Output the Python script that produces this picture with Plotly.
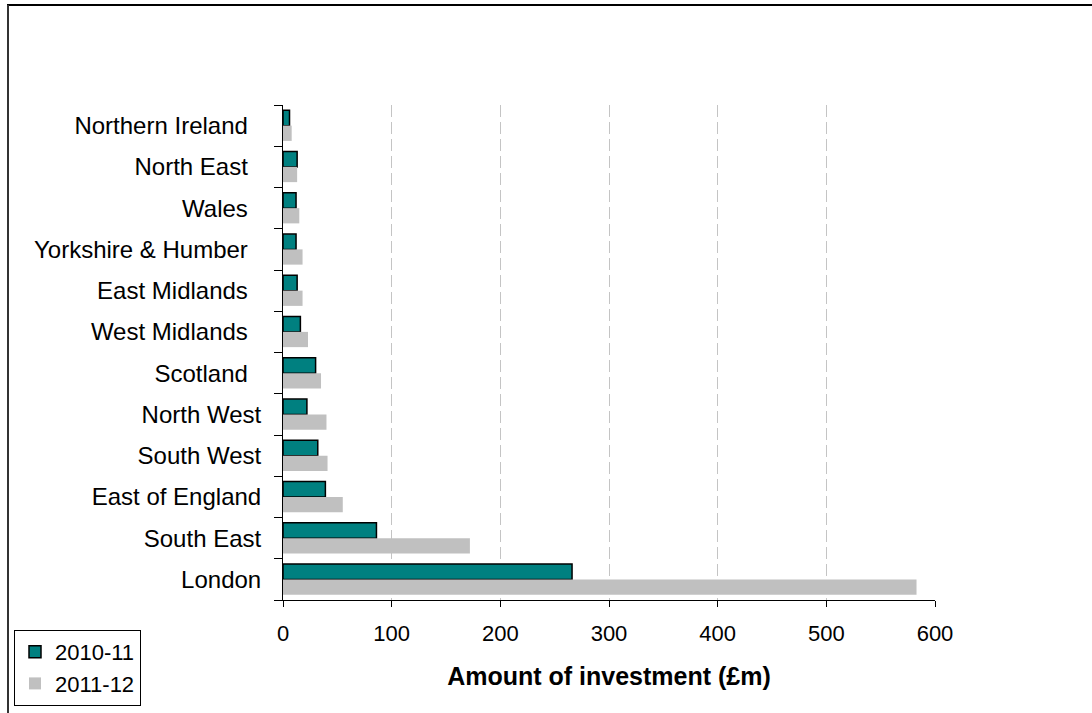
import plotly.graph_objects as go

regions = ["Northern Ireland", "North East", "Wales", "Yorkshire & Humber", "East Midlands",
           "West Midlands", "Scotland", "North West", "South West", "East of England",
           "South East", "London"]
inv_2010_11 = [6, 13, 12, 12, 13, 16, 30, 22, 32, 39, 86, 266]
inv_2011_12 = [8, 13, 15, 18, 18, 23, 35, 40, 41, 55, 172, 583]
x_ticks = [0, 100, 200, 300, 400, 500, 600]

W, H = 1092, 713
L, R, T, B = 283, 157, 105, 113
pw, ph = W - L - R, H - T - B

def px_x(px):
    return (px - L) / pw

def px_y(py):
    return (H - B - py) / ph

FONT = "Liberation Sans, Arial, sans-serif"

# the upper labels in the original sit slightly further from the axis (trailing spaces)
padded = set(regions[:7])
tick_text = [r + ("\u00a0\u00a0" if r in padded else "") for r in regions]

fig = go.Figure()
fig.add_trace(go.Bar(y=regions, x=inv_2010_11, orientation="h", name="2010-11",
                     marker=dict(color="#008080", line=dict(color="black", width=1.5))))
fig.add_trace(go.Bar(y=regions, x=inv_2011_12, orientation="h", name="2011-12",
                     marker=dict(color="#c0c0c0", line=dict(width=0))))

fig.update_layout(
    width=W, height=H,
    margin=dict(l=L, r=R, t=T, b=B, autoexpand=False),
    paper_bgcolor="white", plot_bgcolor="white",
    barmode="group", bargap=0.26, bargroupgap=0,
    font=dict(family=FONT, size=22, color="black"),
    xaxis=dict(range=[0, 600], tickvals=x_ticks, ticks="outside", ticklen=6,
               tickcolor="black", showline=True, linecolor="black", linewidth=1,
               showgrid=True, gridcolor="#c4c4c4", gridwidth=1, griddash="12px,5px",
               zeroline=False, tickfont=dict(size=22), ticklabelstandoff=8,
               title=dict(text="<b>Amount of investment (£m)</b>", font=dict(size=25), standoff=22)),
    yaxis=dict(autorange="reversed", type="category", tickson="boundaries", ticks="outside",
               ticklen=8, tickcolor="black", showline=True, linecolor="black", linewidth=1,
               showgrid=False, tickfont=dict(size=24), ticklabelstandoff=16,
               tickmode="array", tickvals=regions, ticktext=tick_text),
    legend=dict(x=px_x(14), y=px_y(630), xanchor="left", yanchor="top",
                bordercolor="black", borderwidth=1, bgcolor="white",
                font=dict(size=22), tracegroupgap=0),
    showlegend=True,
)

fig.add_shape(type="line", xref="paper", yref="paper",
              x0=px_x(7), x1=px_x(W + 5), y0=px_y(5), y1=px_y(5),
              line=dict(color="black", width=2))
fig.add_shape(type="line", xref="paper", yref="paper",
              x0=px_x(8), x1=px_x(8), y0=px_y(5), y1=px_y(H + 5),
              line=dict(color="#333333", width=2))

fig.write_html("out.html")
